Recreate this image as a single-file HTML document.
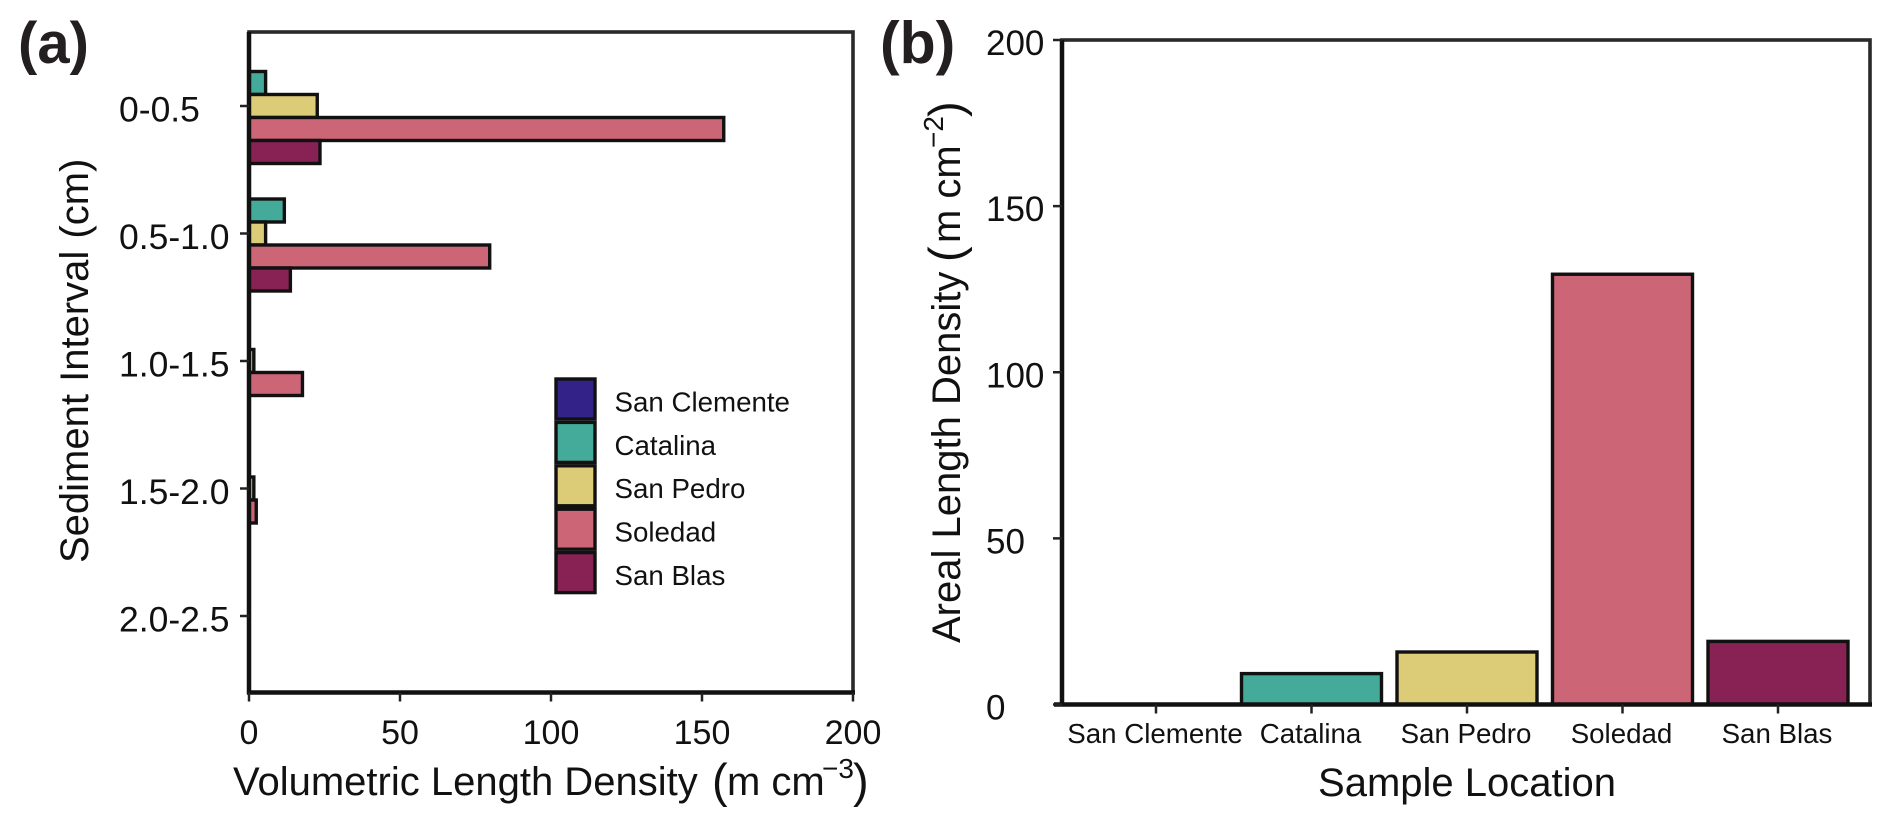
<!DOCTYPE html>
<html lang="en">
<head>
<meta charset="utf-8">
<title>Length density charts</title>
<style>
html,body{margin:0;padding:0;background:#fff;width:1892px;height:826px;overflow:hidden}
svg{display:block;font-family:"Liberation Sans",Arial,sans-serif;fill:#111}
</style>
</head>
<body>
<svg id="chart" xmlns="http://www.w3.org/2000/svg" width="1892" height="826" viewBox="0 0 1892 826">
  <rect x="0" y="0" width="1892" height="826" fill="#fff"/>
  <g id="panel-a"></g>
  <g id="panel-b"></g>
  <text x="18" y="63" font-size="58" font-weight="bold" fill="#231f20">(a)</text>
  <text x="880" y="63" font-size="59" font-weight="bold" fill="#231f20">(b)</text>
  <rect x="0" y="0" width="1000" height="19" fill="#fff"/>
  <text x="233" y="795" font-size="40">Volumetric Length Density<tspan x="712" y="797" font-size="47">(</tspan><tspan x="727" y="795">m cm</tspan><tspan x="822" y="778" font-size="28">−3</tspan><tspan x="853" y="797" font-size="47">)</tspan></text>
  <text transform="translate(88,563) rotate(-90)" font-size="40" word-spacing="1">Sediment Interval (cm)</text>
  <text x="1467" y="796" font-size="40" text-anchor="middle">Sample Location</text>
  <text transform="translate(960,643) rotate(-90)" font-size="40">Areal Length Density<tspan x="381" y="2" font-size="47">(</tspan><tspan x="400" y="0">m cm</tspan><tspan x="495" y="-17" font-size="28">−2</tspan><tspan x="526" y="2" font-size="47">)</tspan></text>
</svg>
<script>
var sites = ['San Clemente', 'Catalina', 'San Pedro', 'Soledad', 'San Blas'];
var siteColors = ['#332288', '#44AA99', '#DDCC77', '#CC6677', '#882255'];
var intervals = ['0-0.5', '0.5-1.0', '1.0-1.5', '1.5-2.0', '2.0-2.5'];
var sanClementeValues = [0, 0, 0, 0, 0];
var catalinaValues = [5.5, 11.7, 0, 0, 0];
var sanPedroValues = [22.6, 5.5, 1.6, 1.6, 0];
var soledadValues = [157.2, 79.7, 17.7, 2.4, 0];
var sanBlasValues = [23.5, 13.7, 0, 0, 0];
var arealValues = [0, 9.3, 15.8, 129.5, 19];
var volumetricTicks = [0, 50, 100, 150, 200];
var arealTicks = [0, 50, 100, 150, 200];

var volumetricSeries = [sanClementeValues, catalinaValues, sanPedroValues, soledadValues, sanBlasValues];
var NS = 'http://www.w3.org/2000/svg';
var panelA = document.getElementById('panel-a');
var panelB = document.getElementById('panel-b');

function make(parent, tag, attrs, text) {
  var el = document.createElementNS(NS, tag);
  for (var k in attrs) { el.setAttribute(k, attrs[k]); }
  if (text !== undefined) { el.textContent = text; }
  parent.appendChild(el);
  return el;
}

var A = { left: 249, right: 853, top: 32, bottom: 692.5 };
var B = { left: 1062, right: 1870, top: 40, bottom: 704.5 };

function xA(v) { return A.left + (v - 0) / 200 * (A.right - A.left); }
function bandA(i) { return 106 + i * 127.5; }
function yB(v) { return B.bottom - v / 200 * (B.bottom - B.top); }
function bandB(i) { return 1156 + i * 155.5; }

/* Panel (a) bars */
var stepA = 23;
volumetricSeries.forEach(function (series, s) {
  series.forEach(function (v, i) {
    var bar = make(panelA, 'rect', {
      x: xA(0), y: bandA(i) - 2.5 * stepA + s * stepA,
      width: xA(v) - xA(0), height: stepA,
      fill: siteColors[s], stroke: '#111', 'stroke-width': 3.4
    });
    
    
  });
});

/* Panel (a) frame */
var frameA = make(panelA, 'rect', {
  x: A.left, y: A.top, width: A.right - A.left, height: A.bottom - A.top,
  fill: 'none', stroke: '#2a2a2a', 'stroke-width': 3.6
});


var axisAY = make(panelA, 'line', { x1: A.left, y1: A.top, x2: A.left, y2: A.bottom + 2, stroke: '#111', 'stroke-width': 4.5 });


var axisAX = make(panelA, 'line', { x1: A.left - 2, y1: A.bottom, x2: A.right + 2, y2: A.bottom, stroke: '#111', 'stroke-width': 4.5 });



/* Panel (a) ticks */
volumetricTicks.forEach(function (t) {
  var tick = make(panelA, 'line', { x1: xA(t), y1: A.bottom, x2: xA(t), y2: A.bottom + 9, stroke: '#222', 'stroke-width': 2.5 });
  
  
  var label = make(panelA, 'text', { x: xA(t), y: 744, 'font-size': 34, 'text-anchor': 'middle' }, String(t));
  
  
});
intervals.forEach(function (name, i) {
  var tick = make(panelA, 'line', { x1: A.left - 9, y1: bandA(i), x2: A.left, y2: bandA(i), stroke: '#222', 'stroke-width': 2.5 });
  
  
  var label = make(panelA, 'text', { x: 119, y: bandA(i) + 15.5, 'font-size': 35.5 }, name);
  
  
});

/* Legend */
sites.forEach(function (name, s) {
  var top = 379 + s * 43.4;
  var swatch = make(panelA, 'rect', { x: 556, y: top, width: 39, height: 40, fill: siteColors[s], stroke: '#111', 'stroke-width': 3.4 });
  
  
  var label = make(panelA, 'text', { x: 614.5, y: top + 32.4, 'font-size': 27.7 }, name);
  
  
});

/* Panel (b) bars */
var widthB = 140;
arealValues.forEach(function (v, i) {
  var bar = make(panelB, 'rect', {
    x: bandB(i) - widthB / 2, y: yB(v), width: widthB, height: yB(0) - yB(v),
    fill: siteColors[i], stroke: '#111', 'stroke-width': 3.4
  });
  
  
});

/* Panel (b) frame */
var frameB = make(panelB, 'rect', {
  x: B.left, y: B.top, width: B.right - B.left, height: B.bottom - B.top,
  fill: 'none', stroke: '#2a2a2a', 'stroke-width': 3.6
});


var axisBY = make(panelB, 'line', { x1: B.left, y1: B.top, x2: B.left, y2: B.bottom + 2, stroke: '#111', 'stroke-width': 4.5 });


var axisBX = make(panelB, 'line', { x1: B.left - 8, y1: B.bottom, x2: B.right + 2, y2: B.bottom, stroke: '#111', 'stroke-width': 4.5 });



/* Panel (b) ticks */
arealTicks.forEach(function (t) {
  var tick = make(panelB, 'line', { x1: B.left - 9, y1: yB(t), x2: B.left, y2: yB(t), stroke: '#222', 'stroke-width': 2.5 });
  
  
  var label = make(panelB, 'text', { x: 986, y: yB(t) + 15, 'font-size': 35 }, String(t));
  
  
});
sites.forEach(function (name, i) {
  var tick = make(panelB, 'line', { x1: bandB(i), y1: B.bottom, x2: bandB(i), y2: B.bottom + 9, stroke: '#222', 'stroke-width': 2.5 });
  
  
  var label = make(panelB, 'text', { x: bandB(i) - 1, y: 743, 'font-size': 27.7, 'text-anchor': 'middle' }, name);
  
  
});
</script>
</body>
</html>
